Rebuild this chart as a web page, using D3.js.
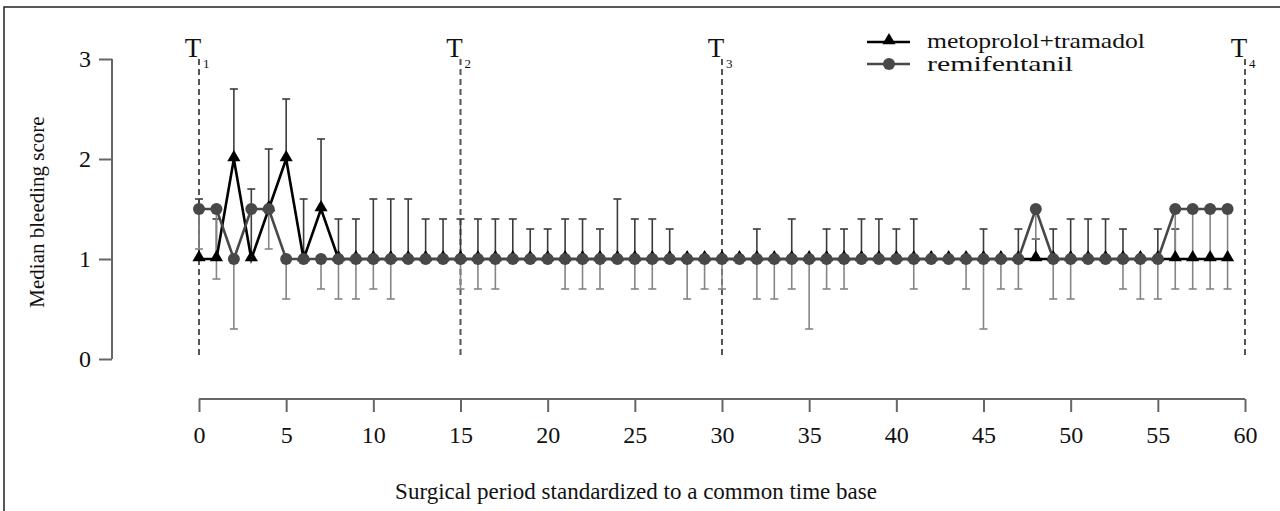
<!DOCTYPE html>
<html><head><meta charset="utf-8">
<script src="https://cdn.jsdelivr.net/npm/d3@7"></script>
<style>html,body{margin:0;padding:0;background:#fff;}svg{display:block;}</style>
</head><body>
<svg id="chart" width="1280" height="511"></svg>
<script>
const timePoints = [0,1,2,3,4,5,6,7,8,9,10,11,12,13,14,15,16,17,18,19,20,21,22,23,24,25,26,27,28,29,30,31,32,33,34,35,36,37,38,39,40,41,42,43,44,45,46,47,48,49,50,51,52,53,54,55,56,57,58,59];
const metoprolol = [1,1,2,1,1.5,2,1,1.5,1,1, 1,1,1,1,1,1,1,1,1,1, 1,1,1,1,1,1,1,1,1,1, 1,1,1,1,1,1,1,1,1,1, 1,1,1,1,1,1,1,1,1,1, 1,1,1,1,1,1,1,1,1,1];
const metoprololUpper = [1.6,1.4,2.7,1.7,2.1,2.6,1.6,2.2,1.4,1.4, 1.6,1.6,1.6,1.4,1.4,1.4,1.4,1.4,1.4,1.3, 1.3,1.4,1.4,1.3,1.6,1.4,1.4,1.3,1.0,1.0, 1.0,1.0,1.3,1.0,1.4,1.0,1.3,1.3,1.4,1.4, 1.3,1.4,1.0,1.0,1.0,1.3,1.0,1.3,1.2,1.3, 1.4,1.4,1.4,1.3,1.0,1.3,1.3,1.0,1.0,1.0];
const remifentanil = [1.5,1.5,1,1.5,1.5,1,1,1,1,1, 1,1,1,1,1,1,1,1,1,1, 1,1,1,1,1,1,1,1,1,1, 1,1,1,1,1,1,1,1,1,1, 1,1,1,1,1,1,1,1,1.5,1, 1,1,1,1,1,1,1.5,1.5,1.5,1.5];
const remifentanilLower = [1.1,0.8,0.3,1.5,1.1,0.6,1.0,0.7,0.6,0.6, 0.7,0.6,1,1,1,0.7,0.7,0.7,1,1, 1,0.7,0.7,0.7,1,0.7,0.7,1,0.6,0.7, 0.7,1,0.6,0.6,0.7,0.3,0.7,0.7,1,1, 1,0.7,1,1,0.7,0.3,0.7,0.7,1.2,0.6, 0.6,1,1,0.7,0.6,0.6,0.7,0.7,0.7,0.7];
const xTicks = [0,5,10,15,20,25,30,35,40,45,50,55,60];
const yTicks = [0,1,2,3];
const markerTimes = [0,15,30,60];
const markerLabels = ["1","2","3","4"];
const seriesNames = ["metoprolol+tramadol","remifentanil"];

const svg = d3.select("#chart");
const FONT = "'Liberation Serif','Times New Roman',serif";

// frame
svg.append("rect").attr("x",4).attr("y",7).attr("width",1290).attr("height",520)
  .attr("fill","none").attr("stroke","#222").attr("stroke-width",1.5);

const x = d3.scaleLinear().domain([0,60]).range([199,1245]);
const y = d3.scaleLinear().domain([0,3]).range([359,59]);

// Y axis
const yAxis = svg.append("g").attr("transform","translate(112,0)")
  .call(d3.axisLeft(y).tickValues(yTicks).tickSize(13).tickPadding(8).tickFormat(d3.format("d")));
yAxis.select(".domain").attr("stroke","#666").attr("stroke-width",2).attr("d","M0,"+y(3)+"V"+y(0));
yAxis.selectAll(".tick line").attr("stroke","#666").attr("stroke-width",2);
yAxis.selectAll(".tick text").attr("font-family",FONT).attr("font-size",24).attr("fill","#111");

// X axis
const xAxis = svg.append("g").attr("transform","translate(0,399)")
  .call(d3.axisBottom(x).tickValues(xTicks).tickSize(13).tickPadding(14).tickFormat(d3.format("d")));
xAxis.select(".domain").attr("stroke","#666").attr("stroke-width",2).attr("d","M"+x(0)+",0H"+x(60));
xAxis.selectAll(".tick line").attr("stroke","#666").attr("stroke-width",2);
xAxis.selectAll(".tick text").attr("font-family",FONT).attr("font-size",24).attr("fill","#111");

// axis titles
svg.append("text").attr("x",636).attr("y",499).attr("text-anchor","middle")
  .attr("font-family",FONT).attr("font-size",23).attr("fill","#111")
  .text("Surgical period standardized to a common time base");
svg.append("text").attr("transform","translate(44,212) rotate(-90)").attr("text-anchor","middle")
  .attr("font-family",FONT).attr("font-size",21).attr("fill","#111")
  .text("Median bleeding score");

// dashed markers
markerTimes.forEach((t,i)=>{
  svg.append("line").attr("x1",x(t)).attr("x2",x(t)).attr("y1",y(3)).attr("y2",y(0))
    .attr("stroke","#555").attr("stroke-width",2).attr("stroke-dasharray","6,4");
  svg.append("text").attr("x",x(t)-6).attr("y",57).attr("text-anchor","middle")
    .attr("font-family",FONT).attr("font-size",27).attr("fill","#111").text("T");
  svg.append("text").attr("x",x(t)+4).attr("y",68).attr("font-family",FONT).attr("font-size",13).attr("fill","#111").text(markerLabels[i]);
});

const capW = 4;
// upper error bars (metoprolol+tramadol)
timePoints.forEach((t,i)=>{
  if (metoprololUpper[i] > metoprolol[i]) {
    svg.append("line").attr("x1",x(t)).attr("x2",x(t)).attr("y1",y(metoprolol[i])).attr("y2",y(metoprololUpper[i]))
      .attr("stroke","#3c3c3c").attr("stroke-width",1.6);
    svg.append("line").attr("x1",x(t)-capW).attr("x2",x(t)+capW).attr("y1",y(metoprololUpper[i])).attr("y2",y(metoprololUpper[i]))
      .attr("stroke","#3c3c3c").attr("stroke-width",1.6);
  }
});
// lower error bars (remifentanil)
timePoints.forEach((t,i)=>{
  if (remifentanilLower[i] < remifentanil[i]) {
    svg.append("line").attr("x1",x(t)).attr("x2",x(t)).attr("y1",y(remifentanil[i])).attr("y2",y(remifentanilLower[i]))
      .attr("stroke","#858585").attr("stroke-width",1.6);
    svg.append("line").attr("x1",x(t)-capW).attr("x2",x(t)+capW).attr("y1",y(remifentanilLower[i])).attr("y2",y(remifentanilLower[i]))
      .attr("stroke","#858585").attr("stroke-width",1.6);
  }
});

const line = d3.line().x(d=>x(d[0])).y(d=>y(d[1]));
const metData = timePoints.map((t,i)=>[t,metoprolol[i]]);
const remData = timePoints.map((t,i)=>[t,remifentanil[i]]);
const tri = d3.symbol().type(d3.symbolTriangle).size(75);

svg.append("path").datum(metData).attr("d",line).attr("fill","none").attr("stroke","#000").attr("stroke-width",2.6);
svg.selectAll(".tri").data(metData).enter().append("path")
  .attr("d",tri).attr("transform",d=>"translate("+x(d[0])+","+(y(d[1])-1.5)+")").attr("fill","#000");

svg.append("path").datum(remData).attr("d",line).attr("fill","none").attr("stroke","#484848").attr("stroke-width",2.6);
svg.selectAll(".dot").data(remData).enter().append("circle")
  .attr("cx",d=>x(d[0])).attr("cy",d=>y(d[1])).attr("r",6).attr("fill","#484848");

// legend
const lg = svg.append("g");
lg.append("line").attr("x1",867).attr("x2",910).attr("y1",42).attr("y2",42).attr("stroke","#000").attr("stroke-width",2.6);
lg.append("path").attr("d",tri).attr("transform","translate(889,40.5)").attr("fill","#000");
lg.append("line").attr("x1",867).attr("x2",910).attr("y1",64).attr("y2",64).attr("stroke","#484848").attr("stroke-width",2.6);
lg.append("circle").attr("cx",889).attr("cy",64).attr("r",6).attr("fill","#484848");
lg.append("text").attr("x",927).attr("y",48).attr("font-family",FONT).attr("font-size",21).attr("fill","#111")
  .attr("textLength",218).attr("lengthAdjust","spacingAndGlyphs").text(seriesNames[0]);
lg.append("text").attr("x",927).attr("y",71).attr("font-family",FONT).attr("font-size",21).attr("fill","#111")
  .attr("textLength",146).attr("lengthAdjust","spacingAndGlyphs").text(seriesNames[1]);
</script>
</body></html>
